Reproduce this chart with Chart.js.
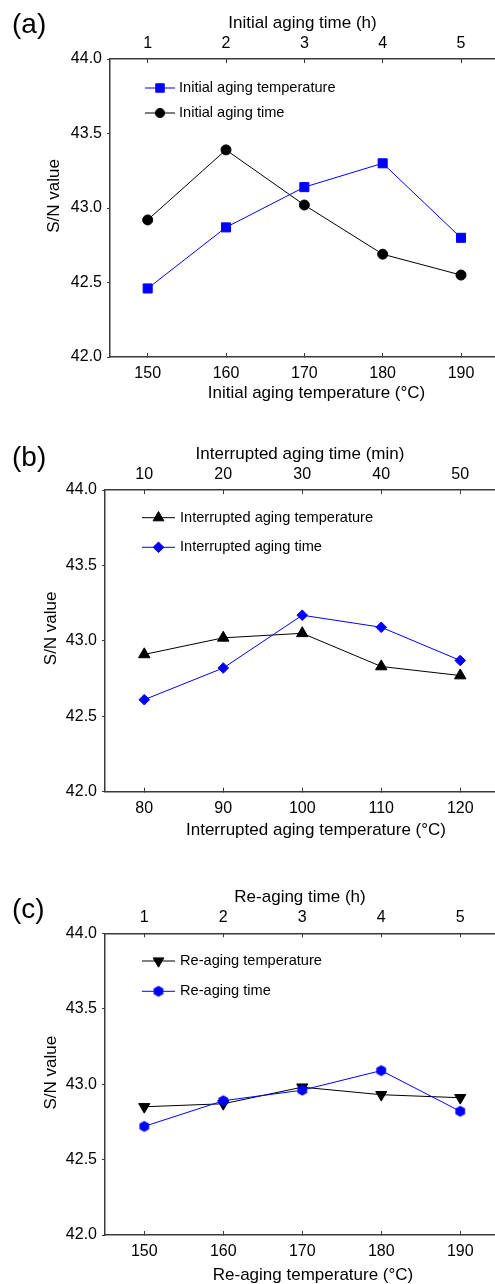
<!DOCTYPE html>
<html><head><meta charset="utf-8">
<script src="https://cdn.jsdelivr.net/npm/chart.js@4/dist/chart.umd.min.js"></script>
<style>
html,body{margin:0;padding:0;background:#fff;overflow:hidden;}
body{width:495px;height:1284px;position:relative;font-family:"Liberation Sans",Arial,sans-serif;}
canvas{position:absolute;left:0;}
.lab{position:absolute;font-size:28px;line-height:28px;color:#000;white-space:nowrap;}
</style></head><body>
<canvas id="ca" width="495" height="405" style="top:0px;width:495px;height:405px"></canvas>
<canvas id="cb" width="495" height="420" style="top:420px;width:495px;height:420px"></canvas>
<canvas id="cc" width="495" height="434" style="top:850px;width:495px;height:434px"></canvas>
<div class="lab" style="left:12px;top:10px">(a)</div>
<div class="lab" style="left:12px;top:443px">(b)</div>
<div class="lab" style="left:12px;top:895px">(c)</div>
<script>
// ---------- DATA ----------
const yTickLabels = ['42.0', '42.5', '43.0', '43.5', '44.0'];

// (a)
const tempA = [150, 160, 170, 180, 190];          // Initial aging temperature (°C)
const timeA = [1, 2, 3, 4, 5];                    // Initial aging time (h)
const snA_temp = [42.46, 42.87, 43.14, 43.30, 42.80];
const snA_time = [42.92, 43.39, 43.02, 42.69, 42.55];

// (b)
const tempB = [80, 90, 100, 110, 120];            // Interrupted aging temperature (°C)
const timeB = [10, 20, 30, 40, 50];               // Interrupted aging time (min)
const snB_temp = [42.91, 43.02, 43.05, 42.83, 42.77];
const snB_time = [42.61, 42.82, 43.17, 43.09, 42.87];

// (c)
const tempC = [150, 160, 170, 180, 190];          // Re-aging temperature (°C)
const timeC = [1, 2, 3, 4, 5];                    // Re-aging time (h)
const snC_temp = [42.85, 42.87, 42.98, 42.93, 42.91];
const snC_time = [42.72, 42.89, 42.96, 43.09, 42.82];

// ---------- STYLE ----------
const FONT = "'Liberation Sans', Arial, sans-serif";
Chart.defaults.font.family = FONT;
Chart.defaults.color = '#000';
const AXIS = '#3a3a3a';
const BLUE = '#0000ff';
const BLACK = '#000000';

function hexagon(r, color) {
  const s = Math.ceil(2 * r + 2);
  const c = document.createElement('canvas');
  c.width = s; c.height = s;
  const g = c.getContext('2d');
  g.fillStyle = color;
  g.beginPath();
  for (let i = 0; i < 6; i++) {
    const a = -Math.PI / 2 + i * Math.PI / 3;
    const px = s / 2 + r * Math.cos(a), py = s / 2 + r * Math.sin(a);
    if (i === 0) g.moveTo(px, py); else g.lineTo(px, py);
  }
  g.closePath();
  g.fill();
  return c;
}

const deco = {
  id: 'deco',
  afterDraw(chart, args, o) {
    const ctx = chart.ctx, ca = chart.chartArea;
    // y-axis title
    ctx.save();
    ctx.fillStyle = '#000';
    ctx.font = '17px ' + FONT;
    ctx.textAlign = 'center';
    ctx.textBaseline = 'middle';
    ctx.translate(o.yTitleX, (ca.top + ca.bottom) / 2 + o.yTitleShift);
    ctx.rotate(-Math.PI / 2);
    ctx.fillText(o.yTitle, 0, 0);
    ctx.restore();
    // bottom x-axis title
    ctx.save();
    ctx.fillStyle = '#000';
    ctx.font = '17px ' + FONT;
    ctx.textAlign = 'center';
    ctx.textBaseline = 'middle';
    ctx.fillText(o.xTitle, (ca.left + ca.right) / 2 + o.xTitleShift, o.xTitleY);
    ctx.restore();
    // legend
    o.rows.forEach((row) => {
      const ds = chart.data.datasets[row.ds];
      ctx.save();
      ctx.strokeStyle = ds.borderColor;
      ctx.lineWidth = 1;
      ctx.beginPath();
      ctx.moveTo(o.lx1, row.y);
      ctx.lineTo(o.lx2, row.y);
      ctx.stroke();
      ctx.fillStyle = ds.backgroundColor;
      Chart.helpers.drawPoint(ctx, {
        pointStyle: ds.pointStyle, radius: row.r,
        rotation: ds.pointRotation || 0, borderWidth: 1
      }, o.mx, row.y);
      ctx.fillStyle = '#000';
      ctx.font = '14.6px ' + FONT;
      ctx.textAlign = 'left';
      ctx.textBaseline = 'middle';
      ctx.fillText(ds.label, o.tx, row.y);
      ctx.restore();
    });
  }
};

function makePanel(id, p) {
  const mkDs = (label, xs, ys, axis, color, style, radius, rot, order) => ({
    label, data: xs.map((x, i) => ({ x, y: ys[i] })), xAxisID: axis, yAxisID: 'y',
    borderColor: color, backgroundColor: color, borderWidth: 1,
    pointStyle: style, pointRadius: radius, pointHoverRadius: radius,
    pointBorderWidth: 1, pointBorderColor: color, pointBackgroundColor: color,
    pointRotation: rot, tension: 0, fill: false, order, clip: false
  });
  const noPadH = s => { s.paddingLeft = 0; s.paddingRight = 0; };
  new Chart(document.getElementById(id), {
    type: 'line',
    data: { datasets: p.datasets.map(d => mkDs(...d)) },
    options: {
      responsive: false, animation: false, events: [],
      layout: { padding: 0, autoPadding: false },
      plugins: { legend: { display: false }, tooltip: { enabled: false }, deco: p.deco },
      scales: {
        x: {
          type: 'linear', position: 'bottom', min: p.xmin, max: p.xmax,
          afterBuildTicks: s => { s.ticks = p.temps.map(v => ({ value: v })); },
          afterFit: s => { s.height = p.bottomH; noPadH(s); },
          grid: { display: true, drawOnChartArea: false, drawTicks: true, tickLength: -4, color: AXIS, lineWidth: 1 },
          border: { display: true, color: AXIS, width: 1.5 },
          ticks: { font: { size: 16 }, color: '#000', padding: 11, maxRotation: 0, autoSkip: false, callback: v => String(v) },
          title: { display: false }
        },
        x2: {
          type: 'linear', position: 'top', min: p.x2min, max: p.x2max,
          afterBuildTicks: s => { s.ticks = p.times.map(v => ({ value: v })); },
          afterFit: s => { s.height = p.topH; noPadH(s); },
          grid: { display: true, drawOnChartArea: false, drawTicks: true, tickLength: -4, color: AXIS, lineWidth: 1 },
          border: { display: true, color: AXIS, width: 1.5 },
          ticks: { font: { size: 16 }, color: '#000', padding: 10, maxRotation: 0, autoSkip: false, callback: v => String(v) },
          title: { display: true, text: p.x2Title, font: { size: 17 }, color: '#000', padding: { top: p.x2TitlePad, bottom: 0 } }
        },
        y: {
          type: 'linear', position: 'left', min: 42, max: 44,
          afterBuildTicks: s => { s.ticks = yTickLabels.map(v => ({ value: parseFloat(v) })); },
          afterFit: s => { s.width = p.leftW; s.paddingTop = 0; s.paddingBottom = 0; },
          grid: { display: true, drawOnChartArea: false, drawTicks: true, tickLength: 3, color: AXIS, lineWidth: 1 },
          border: { display: true, color: AXIS, width: 1.5 },
          ticks: { font: { size: 16 }, color: '#000', padding: 5, callback: v => v.toFixed(1) }
        }
      }
    },
    plugins: [deco]
  });
}

makePanel('ca', {
  temps: tempA, times: timeA,
  xmin: 145.19, xmax: 194.34, x2min: 0.519, x2max: 5.434,
  leftW: 110, topH: 59, bottomH: 48, x2TitlePad: 13,
  x2Title: 'Initial aging time (h)',
  datasets: [
    ['Initial aging temperature', tempA, snA_temp, 'x', BLUE, 'rect', 6.4, 0, 0],
    ['Initial aging time', timeA, snA_time, 'x2', BLACK, 'circle', 5, 0, 1]
  ],
  deco: { yTitle: 'S/N value', yTitleX: 54.5, yTitleShift: -12,
    xTitle: 'Initial aging temperature (°C)', xTitleShift: 14, xTitleY: 393.3,
    lx1: 145, lx2: 175, mx: 160, tx: 179,
    rows: [{ ds: 0, y: 88, r: 6 }, { ds: 1, y: 113, r: 4.6 }] }
});

makePanel('cb', {
  temps: tempB, times: timeB,
  xmin: 75.03, xmax: 124.4, x2min: 5.03, x2max: 54.4,
  leftW: 105, topH: 70, bottomH: 48.3, x2TitlePad: 24,
  x2Title: 'Interrupted aging time (min)',
  datasets: [
    ['Interrupted aging temperature', tempB, snB_temp, 'x', BLACK, 'triangle', 6.6, 0, 1],
    ['Interrupted aging time', timeB, snB_time, 'x2', BLUE, 'rectRot', 5.3, 0, 0]
  ],
  deco: { yTitle: 'S/N value', yTitleX: 51, yTitleShift: -12.5,
    xTitle: 'Interrupted aging temperature (°C)', xTitleShift: 16, xTitleY: 410.3,
    lx1: 142, lx2: 175, mx: 158.5, tx: 180,
    rows: [{ ds: 0, y: 97.7, r: 6.2 }, { ds: 1, y: 127.3, r: 5.3 }] }
});

makePanel('cc', {
  temps: tempC, times: timeC,
  xmin: 145.03, xmax: 194.4, x2min: 0.503, x2max: 5.44,
  leftW: 105, topH: 83.3, bottomH: 49, x2TitlePad: 37,
  x2Title: 'Re-aging time (h)',
  datasets: [
    ['Re-aging temperature', tempC, snC_temp, 'x', BLACK, 'triangle', 6.4, 180, 1],
    ['Re-aging time', timeC, snC_time, 'x2', BLUE, hexagon(5.6, BLUE), 5.6, 0, 0]
  ],
  deco: { yTitle: 'S/N value', yTitleX: 51, yTitleShift: -11.5,
    xTitle: 'Re-aging temperature (°C)', xTitleShift: 13, xTitleY: 425.8,
    lx1: 142, lx2: 175, mx: 158.5, tx: 180,
    rows: [{ ds: 0, y: 111, r: 6.2 }, { ds: 1, y: 141.3, r: 5.3 }] }
});
</script>
</body></html>
